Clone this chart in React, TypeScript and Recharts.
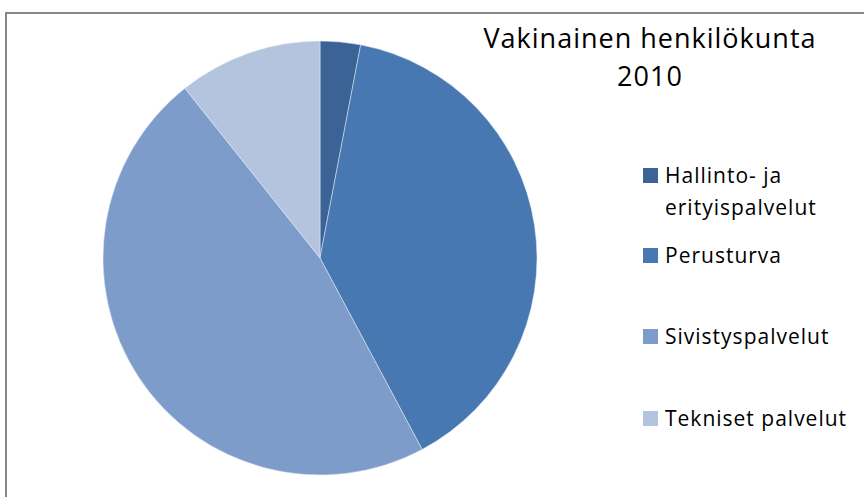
import React from 'react';
import { PieChart, Pie, Cell, Legend } from 'recharts';

const categories = ['Hallinto- ja erityispalvelut', 'Perusturva', 'Sivistyspalvelut', 'Tekniset palvelut'];
const legendLines = [['Hallinto- ja', 'erityispalvelut'], ['Perusturva'], ['Sivistyspalvelut'], ['Tekniset palvelut']];
const values = [3.0, 39.2, 47.1, 10.7];
const COLORS = ['#3b6396', '#4878b1', '#7e9cc9', '#b4c3de'];

const data = categories.map((name, i) => ({ name, value: values[i] }));

const FONT = '"Open Sans", sans-serif';
const legendTops = [160, 240, 321, 403];

const renderLegend = () => (
  <div style={{ position: 'relative', width: 864, height: 497 }}>
    {legendLines.map((lines, i) => (
      <div key={i} style={{ position: 'absolute', left: 643, top: legendTops[i], display: 'flex' }}>
        <div style={{ width: 15, height: 15, background: COLORS[i], marginTop: 8, marginRight: 7 }} />
        <div style={{ fontFamily: FONT, fontSize: 21, letterSpacing: 1, color: '#000' }}>
          {lines.map((l, j) => (
            <div key={j} style={{ lineHeight: j === 0 ? '30px' : '34px' }}>{l}</div>
          ))}
        </div>
      </div>
    ))}
  </div>
);

export default function App() {
  return (
    <div style={{ position: 'absolute', left: 0, top: 0, width: 864, height: 497, overflow: 'hidden', background: '#fff' }}>
      <div style={{ position: 'absolute', left: 5, top: 12, width: 900, height: 600, border: '2px solid #878787' }} />
      <div style={{ position: 'absolute', left: 0, top: 0 }}>
        <PieChart width={864} height={497} margin={{ top: 0, right: 0, bottom: 0, left: 0 }}>
          <Pie
            data={data}
            dataKey="value"
            cx={320}
            cy={258}
            outerRadius={217}
            startAngle={90}
            endAngle={-270}
            stroke="#e8eef7"
            strokeWidth={0.5}
            isAnimationActive={false}
          >
            {data.map((d, i) => (
              <Cell key={d.name} fill={COLORS[i]} />
            ))}
          </Pie>
          <Legend
            content={renderLegend}
            wrapperStyle={{ position: 'absolute', left: 0, top: 0, width: 864, height: 497 }}
          />
        </PieChart>
      </div>
      <div
        style={{
          position: 'absolute',
          left: 450,
          top: 19,
          width: 400,
          textAlign: 'center',
          fontFamily: FONT,
          fontSize: 27,
          letterSpacing: 1,
          lineHeight: '38px',
          color: '#000',
        }}
      >
        Vakinainen henkilökunta
        <br />
        2010
      </div>
    </div>
  );
}
